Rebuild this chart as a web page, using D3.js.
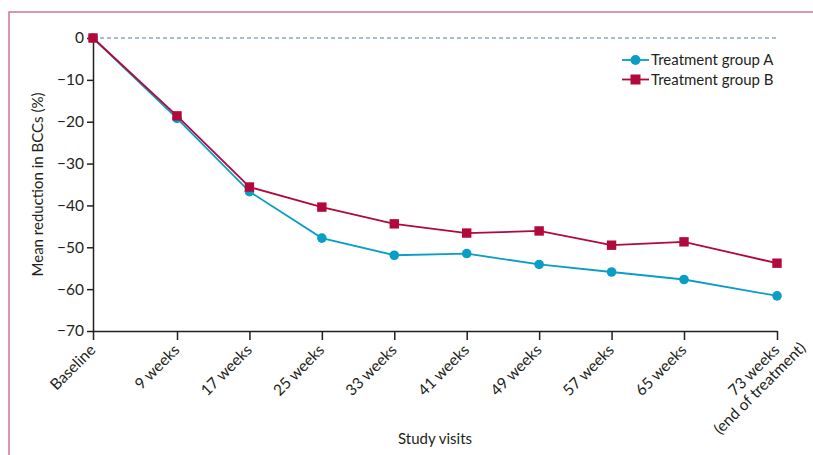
<!DOCTYPE html>
<html>
<head>
<meta charset="utf-8">
<script src="https://cdn.jsdelivr.net/npm/d3@7"></script>
<style>
  body { margin: 0; background: #fff; }
  text { font-family: Lato, "Liberation Sans", sans-serif; fill: #231f20; }
</style>
</head>
<body>
<div id="wrapper"></div>
<script>
const visits = ["Baseline", "9 weeks", "17 weeks", "25 weeks", "33 weeks", "41 weeks",
                "49 weeks", "57 weeks", "65 weeks", "73 weeks"]
const lastNote = "(end of treatment)"
const groupA = [0, -19.2, -36.7, -47.8, -51.9, -51.5, -54.1, -55.9, -57.7, -61.6]
const groupB = [0, -18.6, -35.6, -40.4, -44.4, -46.6, -46.1, -49.5, -48.7, -53.8]
const yTicks = [0, -10, -20, -30, -40, -50, -60, -70]
const seriesNames = ["Treatment group A", "Treatment group B"]

const width = 813
const height = 455
const colorA = "#0a9ec6"
const colorB = "#b3083b"

const svg = d3.select("#wrapper")
  .append("svg")
  .attr("width", width)
  .attr("height", height)

// pink frame top + left
svg.append("path")
  .attr("d", `M9,${height} V12 H${width}`)
  .attr("fill", "none")
  .attr("stroke", "#d8738d")
  .attr("stroke-width", 1.5)

// visits are not evenly spaced in the source: first and last gaps are wider
const x = d3.scaleLinear().domain([0, 1, 8, 9]).range([93, 177, 684, 777])
const y = d3.scaleLinear().domain([0, -70]).range([38, 331])

const fmt = d => d === 0 ? "0" : "\u2212" + Math.abs(d)

// zero reference line
svg.append("line")
  .attr("x1", x(0)).attr("x2", x(9))
  .attr("y1", y(0)).attr("y2", y(0))
  .attr("stroke", "#4f8494")
  .attr("stroke-width", 1.2)
  .attr("stroke-dasharray", "4,3")

const yAxis = svg.append("g")
  .attr("transform", `translate(${x(0)},0)`)
  .call(d3.axisLeft(y).tickValues(yTicks).tickFormat(fmt).tickSize(6).tickSizeOuter(0).tickPadding(3))
yAxis.selectAll("text").style("font-size", "15.5px")

const xAxis = svg.append("g")
  .attr("transform", `translate(0,${y(-70)})`)
  .call(d3.axisBottom(x).tickValues(d3.range(visits.length)).tickFormat(i => visits[i]).tickSize(9).tickSizeOuter(0))

const labelShift = "translate(3,20) rotate(-45)"
xAxis.selectAll(".tick text")
  .style("font-size", "15.5px")
  .attr("text-anchor", "end")
  .attr("dy", null)
  .attr("y", 0)
  .attr("transform", labelShift)

// second line under the last visit label
const lastTick = xAxis.selectAll(".tick").filter(i => i === visits.length - 1)
lastTick.append("text")
  .attr("fill", "#231f20")
  .style("font-size", "15.5px")
  .attr("text-anchor", "end")
  .attr("x", 20)
  .attr("y", 17)
  .attr("transform", labelShift)
  .text(lastNote)

svg.selectAll(".domain, .tick line").attr("stroke", "#231f20").attr("stroke-width", 1.5)

// axis titles
svg.append("text")
  .attr("transform", `translate(43,${(y(0) + y(-70)) / 2}) rotate(-90)`)
  .attr("text-anchor", "middle")
  .style("font-size", "15px")
  .text("Mean reduction in BCCs (%)")

svg.append("text")
  .attr("x", (x(0) + x(9)) / 2)
  .attr("y", 444)
  .attr("text-anchor", "middle")
  .style("font-size", "15px")
  .text("Study visits")

const line = d3.line().x((d, i) => x(i)).y(d => y(d))

svg.append("path")
  .datum(groupA)
  .attr("d", line)
  .attr("fill", "none")
  .attr("stroke", colorA)
  .attr("stroke-width", 1.8)

svg.selectAll(".ptA").data(groupA).enter().append("circle")
  .attr("class", "ptA")
  .attr("cx", (d, i) => x(i))
  .attr("cy", d => y(d))
  .attr("r", 4.8)
  .attr("fill", colorA)

svg.append("path")
  .datum(groupB)
  .attr("d", line)
  .attr("fill", "none")
  .attr("stroke", colorB)
  .attr("stroke-width", 1.8)

svg.selectAll(".ptB").data(groupB).enter().append("rect")
  .attr("class", "ptB")
  .attr("x", (d, i) => x(i) - 4.7)
  .attr("y", d => y(d) - 4.7)
  .attr("width", 9.4)
  .attr("height", 9.4)
  .attr("fill", colorB)

// legend
const legend = svg.append("g").attr("transform", "translate(622,60)")
const items = legend.selectAll("g").data(seriesNames).enter().append("g")
  .attr("transform", (d, i) => `translate(0,${i * 19.5})`)
items.append("line")
  .attr("x1", 0).attr("x2", 27)
  .attr("stroke", (d, i) => i === 0 ? colorA : colorB)
  .attr("stroke-width", 1.8)
items.filter((d, i) => i === 0).append("circle")
  .attr("cx", 13.5).attr("r", 5).attr("fill", colorA)
items.filter((d, i) => i === 1).append("rect")
  .attr("x", 8.5).attr("y", -5).attr("width", 10).attr("height", 10).attr("fill", colorB)
items.append("text")
  .attr("x", 29)
  .attr("dy", "0.35em")
  .style("font-size", "15px")
  .text(d => d)
</script>
</body>
</html>
